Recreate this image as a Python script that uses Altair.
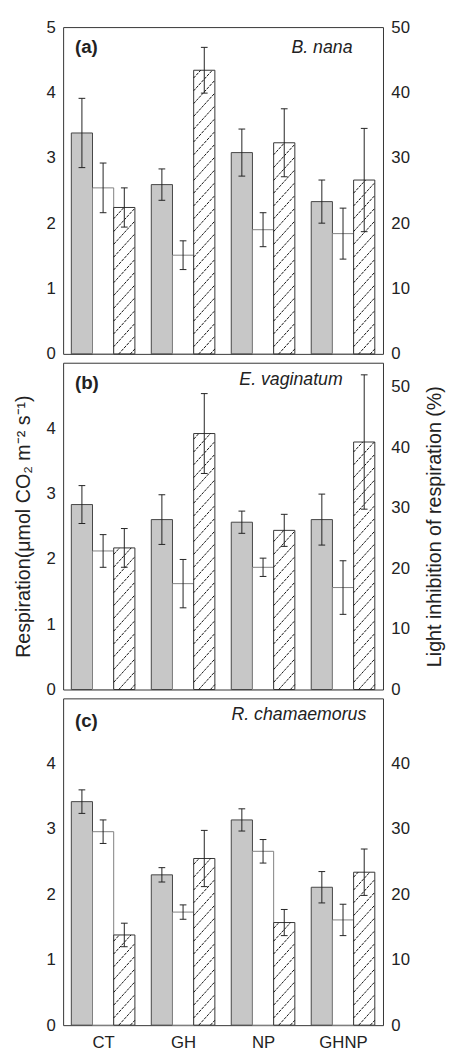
import json
import altair as alt
import pandas as pd

groups = ["CT", "GH", "NP", "GHNP"]
panel_tags = ["(a)", "(b)", "(c)"]
species = ["B. nana", "E. vaginatum", "R. chamaemorus"]

# Respiration in darkness (grey bars), in light (white bars), umol CO2 m-2 s-1
dark_a = [3.38, 2.59, 3.08, 2.33]
dark_a_se = [0.53, 0.24, 0.36, 0.33]
light_a = [2.54, 1.51, 1.90, 1.84]
light_a_se = [0.38, 0.22, 0.26, 0.39]
inhib_a = [22.4, 43.4, 32.3, 26.6]
inhib_a_se = [3.0, 3.5, 5.2, 7.9]

dark_b = [2.83, 2.60, 2.56, 2.60]
dark_b_se = [0.29, 0.38, 0.17, 0.39]
light_b = [2.12, 1.62, 1.87, 1.56]
light_b_se = [0.25, 0.37, 0.14, 0.41]
inhib_b = [23.4, 42.3, 26.3, 40.9]
inhib_b_se = [3.2, 6.6, 2.65, 11.1]

dark_c = [3.42, 2.30, 3.14, 2.11]
dark_c_se = [0.18, 0.11, 0.17, 0.24]
light_c = [2.96, 1.73, 2.66, 1.61]
light_c_se = [0.18, 0.11, 0.18, 0.24]
inhib_c = [13.8, 25.5, 15.7, 23.4]
inhib_c_se = [1.8, 4.3, 2.0, 3.55]

left_ticks = [[0, 1, 2, 3, 4, 5], [0, 1, 2, 3, 4], [0, 1, 2, 3, 4]]
right_ticks = [[0, 10, 20, 30, 40, 50], [0, 10, 20, 30, 40, 50], [0, 10, 20, 30, 40]]
right_max = [50, 54, 50]
left_max = 5

panels = [
    (dark_a, dark_a_se, light_a, light_a_se, inhib_a, inhib_a_se),
    (dark_b, dark_b_se, light_b, light_b_se, inhib_b, inhib_b_se),
    (dark_c, dark_c_se, light_c, light_c_se, inhib_c, inhib_c_se),
]

FONT = "Liberation Sans"
W, H = 325, 332
BW = 0.265
CAP = 0.042
PXX = W / 4.0
tag_pos = [(12, 26), (12, 27), (12, 29)]
sp_pos = [(W - 31, 26), (W - 41, 23), (W - 17, 22)]


def hatch_segments(xl, v, ymax):
    pxy = H / ymax
    w = BW * PXX
    h = v * pxy
    slope = 1.1
    step = 13.0
    segs = []
    c = -w * slope + 5
    while c < h:
        x0 = max(0.0, -c / slope)
        x1 = min(w, (h - c) / slope)
        if x1 - x0 > 0.3:
            segs.append((xl + x0 / PXX, (c + slope * x0) / pxy,
                         xl + x1 / PXX, (c + slope * x1) / pxy))
        c += step
    return segs


xscale = alt.Scale(domain=[-0.5, 3.5], nice=False, zero=False)
label_expr = json.dumps(groups) + "[datum.value]"


def make_panel(i):
    dark, dark_se, light, light_se, inhib, inhib_se = panels[i]
    rows = []
    for g in range(4):
        for kind, val, se, off in (("dark", dark[g], dark_se[g], -BW), ("light", light[g], light_se[g], 0.0)):
            xc = g + off
            rows.append(dict(kind=kind, x1=xc - BW / 2, x2=xc + BW / 2, xc=xc,
                             cl=xc - CAP, cr=xc + CAP, v=val, base=0.0,
                             lo=val - se, hi=val + se))
    dl = pd.DataFrame(rows)
    hrows = []
    segs = []
    for g in range(4):
        xc = g + BW
        hrows.append(dict(x1=xc - BW / 2, x2=xc + BW / 2, xc=xc, cl=xc - CAP, cr=xc + CAP,
                          v=inhib[g], base=0.0, lo=inhib[g] - inhib_se[g], hi=inhib[g] + inhib_se[g]))
        for s in hatch_segments(xc - BW / 2, inhib[g], right_max[i]):
            segs.append(dict(sx=s[0], sy=s[1], sx2=s[2], sy2=s[3]))
    dh = pd.DataFrame(hrows)
    ds = pd.DataFrame(segs)

    if i == 2:
        xaxis = alt.Axis(values=[0, 1, 2, 3], labelExpr=label_expr, ticks=False, domain=False,
                         grid=False, title=None, labelPadding=10, labelFontSize=17)
    else:
        xaxis = None
    lscale = alt.Scale(domain=[0, left_max], nice=False)
    rscale = alt.Scale(domain=[0, right_max[i]], nice=False)
    laxis = alt.Axis(values=left_ticks[i], ticks=False, domain=False, grid=False, labelPadding=8,
                     title="Respiration(μmol CO₂ m⁻² s⁻¹)" if i == 1 else None, titlePadding=13)
    raxis = alt.Axis(orient="right", values=right_ticks[i], ticks=False, domain=False, grid=False,
                     labelPadding=8, title="Light inhibition of respiration (%)" if i == 1 else None,
                     titleAngle=270, titleBaseline="top", titlePadding=16)

    def X(f):
        return alt.X(f, scale=xscale, axis=xaxis)

    base_l = alt.Chart(dl)
    bars = base_l.mark_bar(strokeWidth=1).encode(
        x=X("x1:Q"),
        x2="x2:Q",
        y=alt.Y("v:Q", scale=lscale, axis=laxis),
        y2="base:Q",
        fill=alt.Fill("kind:N", scale=alt.Scale(domain=["dark", "light"], range=["#c7c7c7", "#ffffff"]), legend=None),
        stroke=alt.Stroke("kind:N", scale=alt.Scale(domain=["dark", "light"], range=["#444444", "#808080"]), legend=None),
    )
    whisk = base_l.mark_rule(color="#222", strokeWidth=1).encode(
        x=X("xc:Q"), y=alt.Y("lo:Q", axis=laxis), y2="hi:Q")
    caph = base_l.mark_rule(color="#222", strokeWidth=1).encode(
        x=X("cl:Q"), x2="cr:Q", y=alt.Y("hi:Q", axis=laxis))
    capl = base_l.mark_rule(color="#222", strokeWidth=1).encode(
        x=X("cl:Q"), x2="cr:Q", y=alt.Y("lo:Q", axis=laxis))
    tag = alt.Chart(pd.DataFrame({"t": [panel_tags[i]]})).mark_text(
        font=FONT, fontSize=19, fontWeight="bold", align="left", baseline="alphabetic", color="#222"
    ).encode(text="t:N", x=alt.value(tag_pos[i][0]), y=alt.value(tag_pos[i][1]))
    sp = alt.Chart(pd.DataFrame({"t": [species[i]]})).mark_text(
        font=FONT, fontSize=18, fontStyle="italic", align="right", baseline="alphabetic", color="#222"
    ).encode(text="t:N", x=alt.value(sp_pos[i][0]), y=alt.value(sp_pos[i][1]))
    left = alt.layer(bars, whisk, caph, capl, tag, sp)

    base_h = alt.Chart(dh)
    hbars = base_h.mark_bar(fill="#ffffff", stroke="#333333", strokeWidth=1).encode(
        x=X("x1:Q"), x2="x2:Q",
        y=alt.Y("v:Q", scale=rscale, axis=raxis), y2="base:Q")
    hatch = alt.Chart(ds).mark_rule(color="#111", strokeWidth=1, strokeDash=[3, 1]).encode(
        x=X("sx:Q"), x2="sx2:Q",
        y=alt.Y("sy:Q", axis=raxis), y2="sy2:Q")
    hwhisk = base_h.mark_rule(color="#222", strokeWidth=1).encode(
        x=X("xc:Q"), y=alt.Y("lo:Q", axis=raxis), y2="hi:Q")
    hcaph = base_h.mark_rule(color="#222", strokeWidth=1).encode(
        x=X("cl:Q"), x2="cr:Q", y=alt.Y("hi:Q", axis=raxis))
    hcapl = base_h.mark_rule(color="#222", strokeWidth=1).encode(
        x=X("cl:Q"), x2="cr:Q", y=alt.Y("lo:Q", axis=raxis))
    right = alt.layer(hbars, hatch, hwhisk, hcaph, hcapl)

    return alt.layer(left, right).resolve_scale(y="independent").properties(width=W, height=H)


chart = alt.vconcat(make_panel(0), make_panel(1), make_panel(2), spacing=9, bounds="flush").properties(
    padding={"left": 5, "top": 1, "right": 0, "bottom": 0}
).configure_view(stroke="#333333", strokeWidth=1).configure_axis(
    labelFont=FONT, titleFont=FONT, labelFontSize=17, titleFontSize=20,
    labelColor="#222", titleColor="#222", titleFontWeight="normal"
)

chart.save("out.html", embed_options={"renderer": "svg", "actions": False})
